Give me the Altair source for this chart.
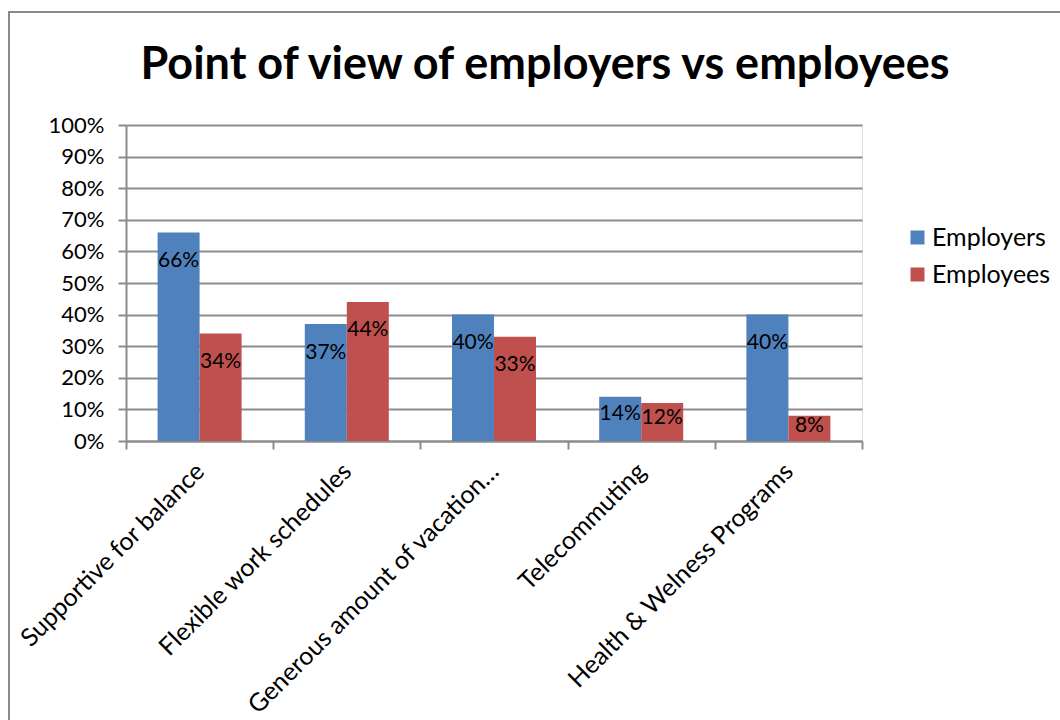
import altair as alt
import pandas as pd

categories = ["Supportive for balance", "Flexible work schedules",
              "Generous amount of vacation…", "Telecommuting",
              "Health & Welness Programs"]
employers = [0.66, 0.37, 0.40, 0.14, 0.40]
employees = [0.34, 0.44, 0.33, 0.12, 0.08]
series = ["Employers", "Employees"]
colors = ["#4F81BD", "#C0504D"]
title_text = "Point of view of employers vs employees"

rows = []
for i, c in enumerate(categories):
    rows.append({"category": c, "series": "Employers", "value": employers[i]})
    rows.append({"category": c, "series": "Employees", "value": employees[i]})
df = pd.DataFrame(rows)

FONT = "Lato"
GRID = "#8c8c8c"

xscale = alt.Scale(paddingInner=0, paddingOuter=0)
xaxis = alt.Axis(title=None, labelAngle=315, labelAlign="right",
                 labelBaseline="middle", tickBand="extent",
                 labelFont=FONT, labelFontSize=25, labelColor="black",
                 labelPadding=18, tickSize=8, tickColor=GRID, tickWidth=2,
                 domainColor=GRID, domainWidth=2, labelLimit=500,
                 labelOverlap=False)
yscale = alt.Scale(domain=[0, 1], nice=False)
yaxis = alt.Axis(title=None, format=".0%",
                 values=[i / 10 for i in range(11)],
                 labelOverlap=False,
                 labelFont=FONT, labelFontSize=22, labelColor="black",
                 labelPadding=14, tickSize=8, tickColor=GRID, tickWidth=2,
                 domainColor=GRID, domainWidth=2,
                 grid=True, gridColor=GRID, gridWidth=2)
xo = alt.XOffset("series:N", sort=series,
                 scale=alt.Scale(paddingInner=0, paddingOuter=0.752))

bars = alt.Chart(df).mark_bar().encode(
    x=alt.X("category:N", sort=categories, scale=xscale, axis=xaxis),
    xOffset=xo,
    y=alt.Y("value:Q", scale=yscale, axis=yaxis),
    color=alt.Color("series:N", sort=series,
                    scale=alt.Scale(domain=series, range=colors),
                    legend=alt.Legend(title=None, orient="none", legendX=779,
                                      legendY=100, symbolType="square",
                                      symbolSize=196, symbolStrokeWidth=0,
                                      labelFont=FONT, labelFontSize=25,
                                      labelColor="black", rowPadding=11,
                                      labelOffset=2)))

labels = alt.Chart(df).transform_calculate(
    labY="max(datum.value - 0.09, datum.value * 0.6)"
).mark_text(font=FONT, fontSize=21, color="black", baseline="middle").encode(
    x=alt.X("category:N", sort=categories, scale=xscale, axis=xaxis),
    xOffset=xo,
    y=alt.Y("labY:Q", scale=yscale, axis=yaxis),
    text=alt.Text("value:Q", format=".0%"))

one = pd.DataFrame({"t": [title_text]})

border = alt.Chart(one).mark_rect(
    filled=False, stroke="#8a8a8a", strokeWidth=2).encode(
    x=alt.value(-117), x2=alt.value(944), y=alt.value(-113), y2=alt.value(605))

title = alt.Chart(one).mark_text(
    font=FONT, fontSize=45, fontWeight="bold", color="black",
    align="center", baseline="alphabetic").encode(
    x=alt.value(419), y=alt.value(-46), text="t:N")

chart = alt.layer(border, title, bars, labels).properties(
    width=736, height=316,
    autosize=alt.AutoSizeParams(type="none"),
    padding={"left": 126, "top": 125, "right": 198, "bottom": 279},
).configure_view(stroke="transparent", strokeWidth=0).configure(background="white")

chart.save("out.html", embed_options={"renderer": "svg", "actions": False})
